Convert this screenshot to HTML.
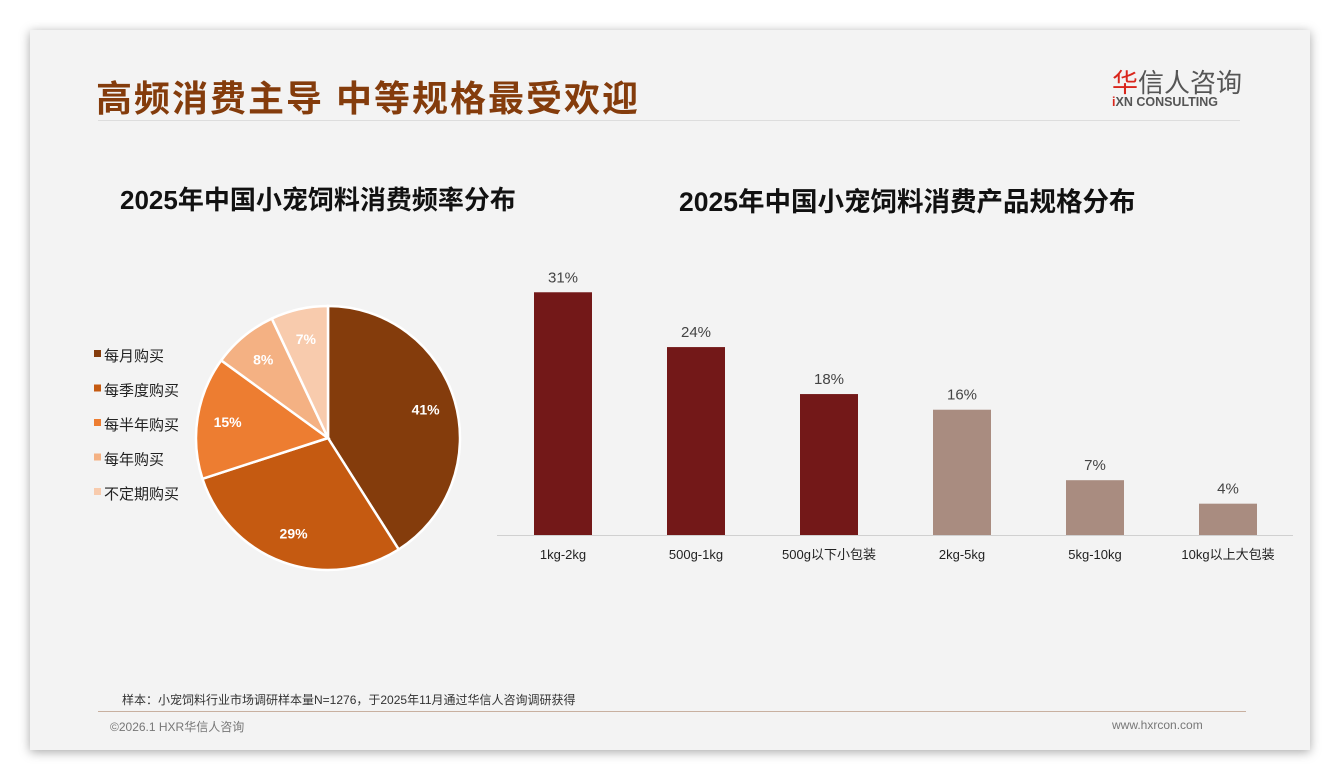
<!DOCTYPE html>
<html><head><meta charset="utf-8"><style>
body{margin:0;width:1340px;height:780px;background:#fff;font-family:"Liberation Sans","Noto Sans CJK SC",sans-serif;position:relative;overflow:hidden}
#card{position:absolute;left:30px;top:30px;width:1280px;height:720px;background:#f3f3f3;box-shadow:0 2px 10px rgba(0,0,0,.35)}
.abs{position:absolute;white-space:nowrap}
</style></head><body>
<div id="card"></div>
<div class="abs" style="left:96px;top:70px;font-size:36px;font-weight:bold;color:#843c0c;letter-spacing:2px">高频消费主导 中等规格最受欢迎</div>
<div class="abs" style="left:1112px;top:63px;font-size:26px;color:#555"><span style="color:#d9261c">华</span>信人咨询</div>
<div class="abs" style="left:1112px;top:95px;font-size:12.5px;font-weight:bold;color:#555"><span style="color:#d9261c">i</span>XN CONSULTING</div>
<div class="abs" style="left:98px;top:120px;width:1142px;height:1px;background:#ddd"></div>
<div class="abs" style="left:120px;top:180px;font-size:26px;font-weight:bold;color:#111">2025年中国小宠饲料消费频率分布</div>
<div class="abs" style="left:679px;top:180px;font-size:26.5px;font-weight:bold;color:#111">2025年中国小宠饲料消费产品规格分布</div>
<svg class="abs" style="left:0;top:0" width="1340" height="780" id="chart"></svg>
<div class="abs" style="left:122px;top:691px;font-size:12px;color:#333">样本：小宠饲料行业市场调研样本量N=1276，于2025年11月通过华信人咨询调研获得</div>
<div class="abs" style="left:98px;top:711px;width:1148px;height:1px;background:#c8b0a0"></div>
<div class="abs" style="left:110px;top:718px;font-size:12px;color:#777">©2026.1 HXR华信人咨询</div>
<div class="abs" style="left:1112px;top:718px;font-size:12px;color:#777">www.hxrcon.com</div>
<script>
const pieLabels=["每月购买","每季度购买","每半年购买","每年购买","不定期购买"];
const pieValues=[41,29,15,8,7];
const pieColors=["#843c0c","#c55a11","#ed7d31","#f4b183","#f8cbad"];
const barCats=["1kg-2kg","500g-1kg","500g以下小包装","2kg-5kg","5kg-10kg","10kg以上大包装"];
const barValues=[31,24,18,16,7,4];
const barColors=["#731818","#731818","#731818","#a98c80","#a98c80","#a98c80"];
const NS="http://www.w3.org/2000/svg";
const svg=document.getElementById('chart');
function mk(t,a,txt){const e=document.createElementNS(NS,t);for(const k in a)e.setAttribute(k,a[k]);if(txt!=null)e.textContent=txt;svg.appendChild(e);return e;}
const cx=328,cy=438,r=132;
const tot=pieValues.reduce((a,b)=>a+b,0);
let ang=0;
pieValues.forEach((v,i)=>{
 const a0=ang,a1=ang+v/tot*2*Math.PI;ang=a1;
 const p=a=>[cx+r*Math.sin(a),cy-r*Math.cos(a)];
 const [x0,y0]=p(a0),[x1,y1]=p(a1);
 const s=mk('path',{d:`M${cx},${cy}L${x0},${y0}A${r},${r} 0 ${a1-a0>Math.PI?1:0} 1 ${x1},${y1}Z`,fill:pieColors[i],stroke:'#fff','stroke-width':2.5});
 
 
 const m=(a0+a1)/2,lr=r*0.77;
 const t=mk('text',{x:cx+lr*Math.sin(m),y:cy-lr*Math.cos(m)+5,'text-anchor':'middle','font-size':14,'font-weight':'bold',fill:'#fff'},v+'%');
 
 
 const ly=355+i*34.5;
 const sq=mk('rect',{x:94,y:ly-5,width:7,height:7,fill:pieColors[i]});
 
 
 const lt=mk('text',{x:104,y:ly+6,'font-size':15,fill:'#222'},pieLabels[i]);
 
 
});
const base=535,scale=7.83,x0=563,step=133,bw=58;
const ax=mk('line',{x1:497,x2:1293,y1:base+0.5,y2:base+0.5,stroke:'#d0d0d0','stroke-width':1});


barValues.forEach((v,i)=>{
 const cxb=x0+i*step,h=v*scale;
 const b=mk('rect',{x:cxb-bw/2,y:base-h,width:bw,height:h,fill:barColors[i]});
 
 
 const t=mk('text',{x:cxb,y:base-h-10,'text-anchor':'middle','font-size':15,fill:'#444'},v+'%');
 
 
 const c=mk('text',{x:cxb,y:559,'text-anchor':'middle','font-size':13,fill:'#222'},barCats[i]);
 
 
});
</script>
</body></html>
